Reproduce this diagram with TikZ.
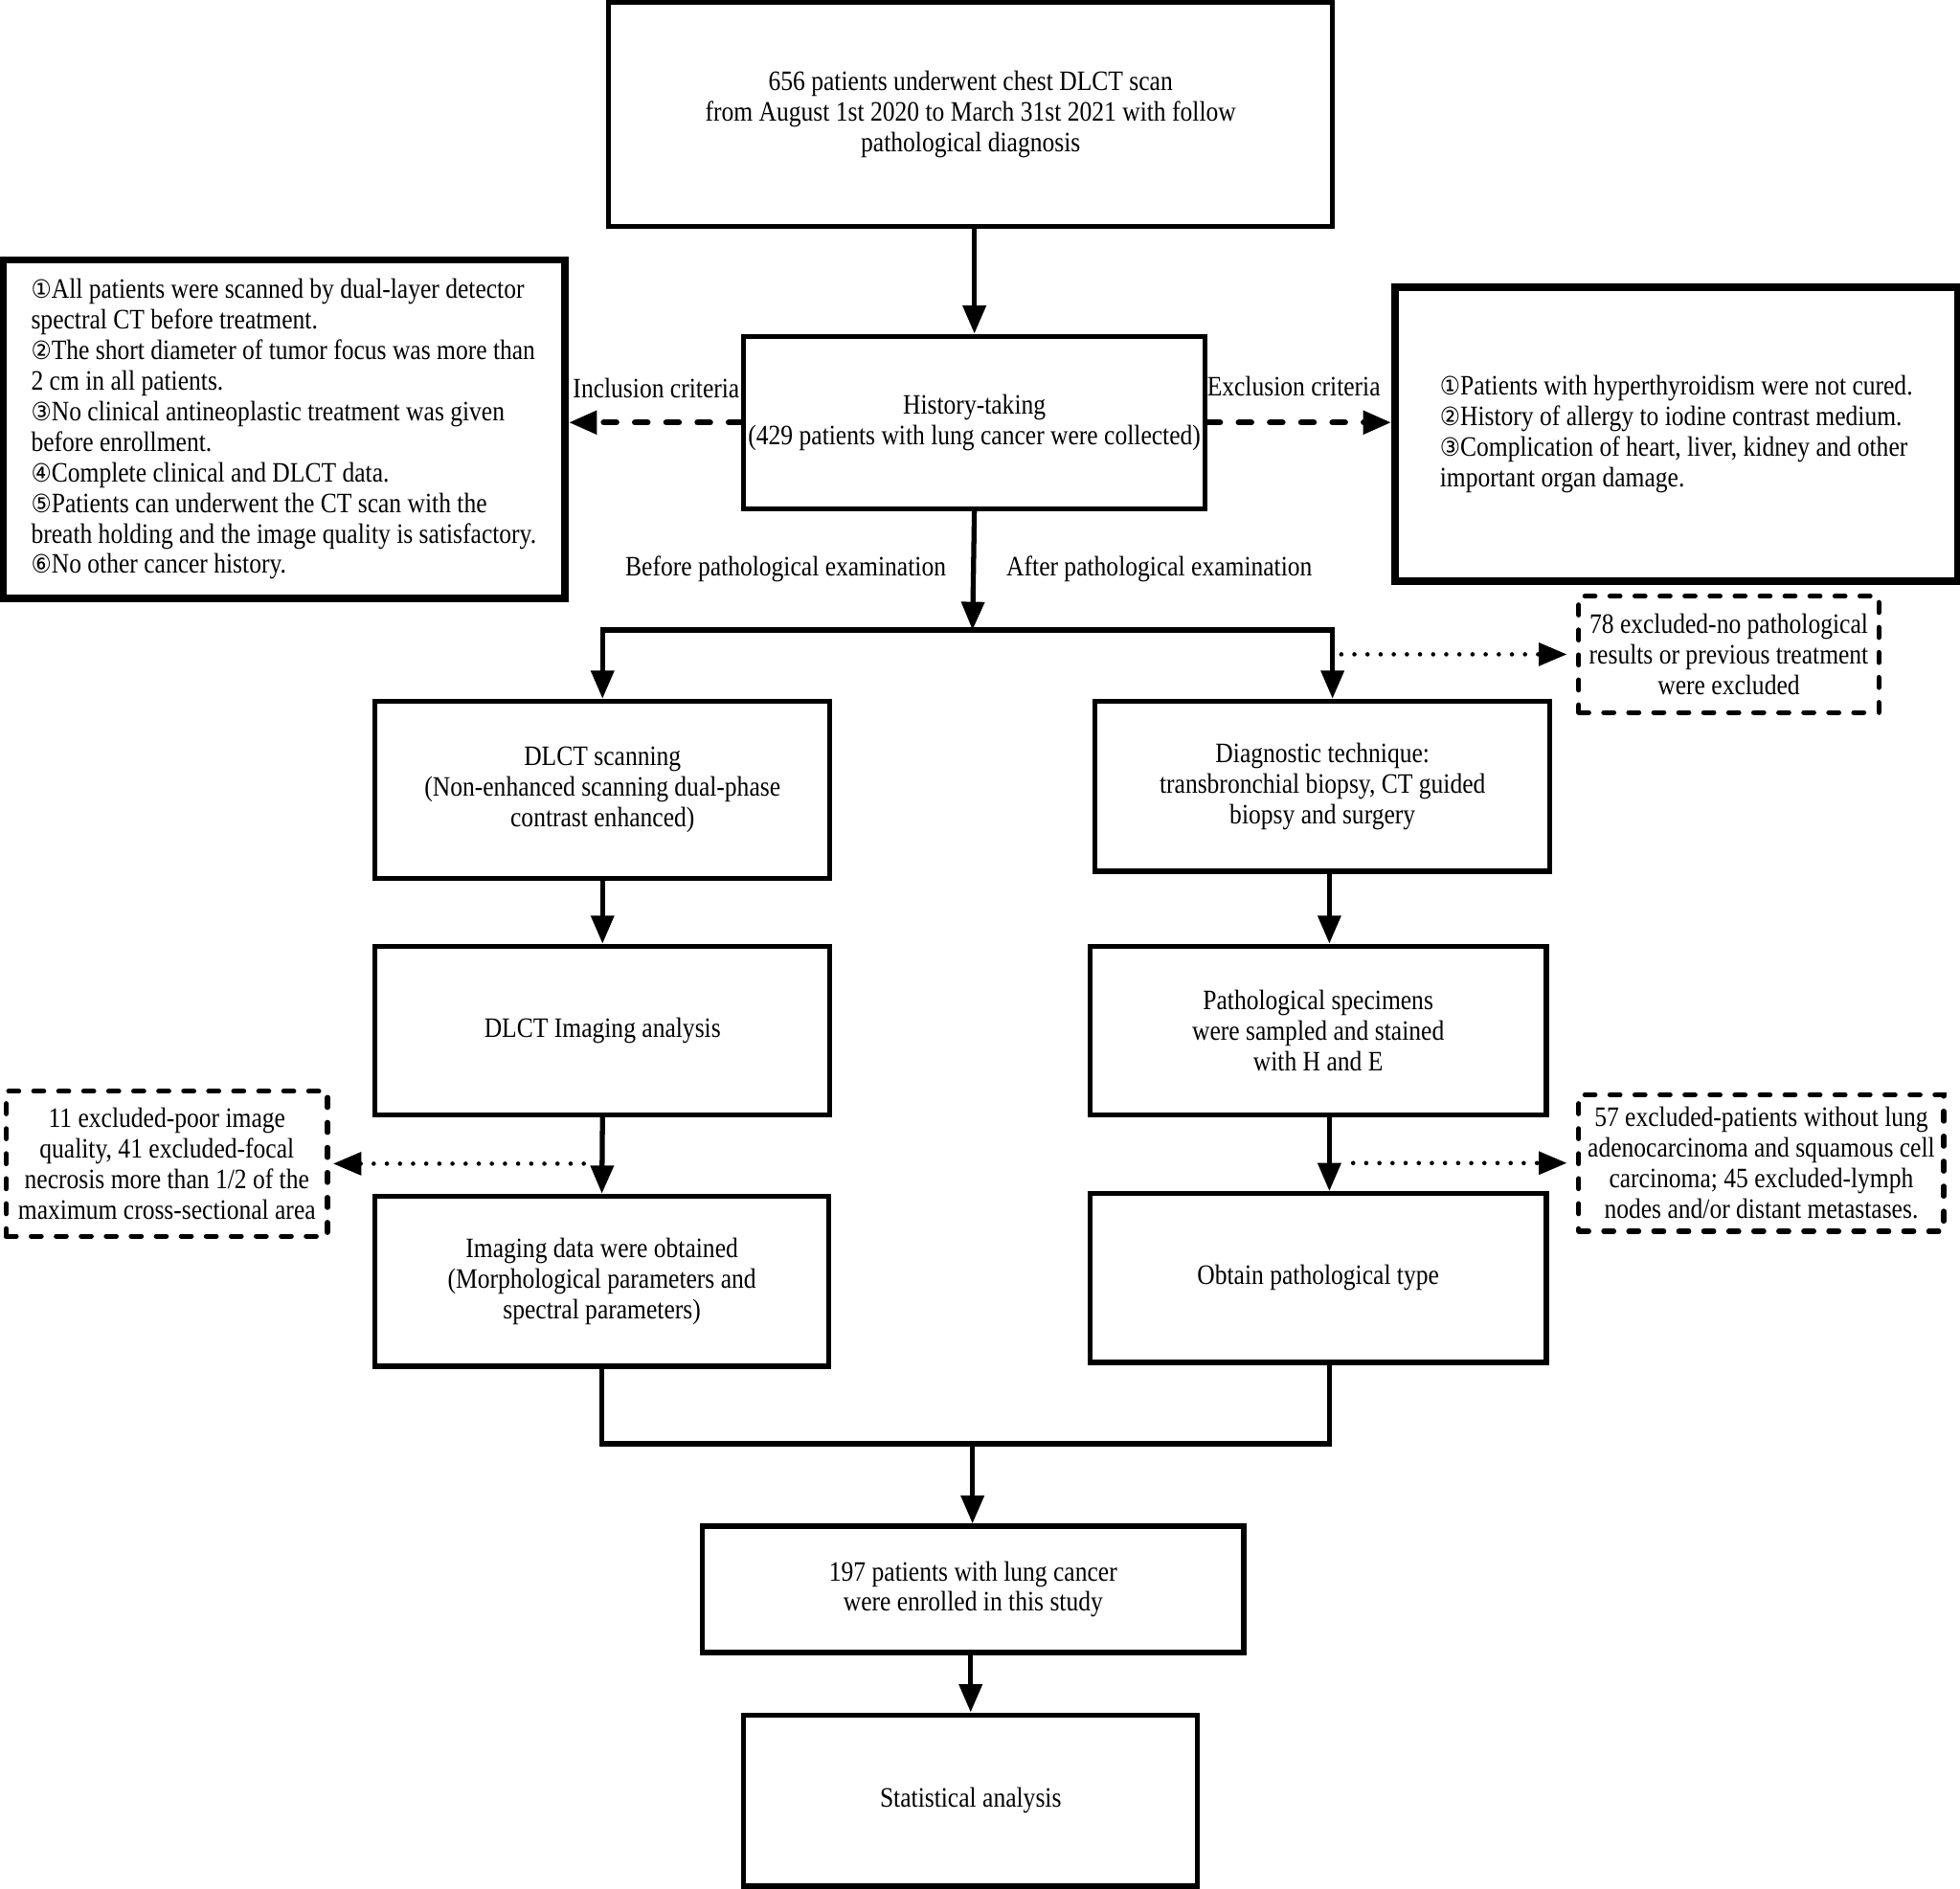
\documentclass[tikz,border=0pt]{standalone}
\usepackage{fontspec}
\setmainfont{Liberation Serif}[FakeStretch=0.87]
\newfontfamily\circfont{DejaVu Sans}[FakeStretch=0.9]
\usetikzlibrary{arrows.meta,positioning}
\newcommand{\cnum}[1]{{\circfont\fontsize{11.5}{13.9}\selectfont #1}}
\tikzstyle{every node}=[font=\fontsize{12.8}{13.9}\selectfont]
\tikzstyle{stepbox} = [draw, line width=2.3pt, align=center, inner sep=2pt]
\tikzstyle{critbox} = [draw, line width=3.4pt, align=left, inner sep=2pt]
\tikzstyle{dropbox} = [draw, line width=2.3pt, align=center, inner sep=1pt,
line cap=round, dash pattern=on 0.16cm off 0.24cm]
\tikzstyle{arrow} = [-{Triangle[length=0.45cm,width=0.36cm]}, line width=2.3pt]
\tikzstyle{dasharrow} = [arrow, line width=2.8pt, line cap=round, dash pattern=on 0.2cm off 0.3cm]
\tikzstyle{dotarrow} = [-{Triangle[length=0.45cm,width=0.36cm]}, line width=2pt,
line cap=round, dash pattern=on 0pt off 0.21cm]

\begin{document}
\begin{tikzpicture}
\useasboundingbox (0,0) rectangle (31.36,-30.22);
% main column
\node[stepbox, minimum width=11.58cm, minimum height=3.58cm] (scanned) at (15.53,-1.83)
  {656 patients underwent chest DLCT scan\\from August 1st 2020 to March 31st 2021 with follow\\pathological diagnosis};
\node[stepbox, minimum width=7.30cm, minimum height=2.76cm] (history) at (15.59,-6.76)
  {History-taking\\(429 patients with lung cancer were collected)};
\node[critbox, minimum width=9.00cm, minimum height=5.42cm] (inclusion) at (4.54,-6.87)
  {\cnum{①}All patients were scanned by dual-layer detector\\spectral CT before treatment.\\
   \cnum{②}The short diameter of tumor focus was more than\\2 cm in all patients.\\
   \cnum{③}No clinical antineoplastic treatment was given\\before enrollment.\\
   \cnum{④}Complete clinical and DLCT data.\\
   \cnum{⑤}Patients can underwent the CT scan with the\\breath holding and the image quality is satisfactory.\\
   \cnum{⑥}No other cancer history.};
\node[critbox, minimum width=9.00cm, minimum height=4.70cm] (exclusion) at (26.82,-6.95)
  {\cnum{①}Patients with hyperthyroidism were not cured.\\
   \cnum{②}History of allergy to iodine contrast medium.\\
   \cnum{③}Complication of heart, liver, kidney and other\\important organ damage.};
% two branches
\node[stepbox, minimum width=7.28cm, minimum height=2.84cm] (dlctscan) at (9.64,-12.64)
  {DLCT scanning\\(Non-enhanced scanning dual-phase\\contrast enhanced)};
\node[stepbox, minimum width=7.28cm, minimum height=2.72cm] (technique) at (21.16,-12.58)
  {Diagnostic technique:\\transbronchial biopsy, CT guided\\biopsy and surgery};
\node[stepbox, minimum width=7.28cm, minimum height=2.70cm] (imaging) at (9.64,-16.49)
  {DLCT Imaging analysis};
\node[stepbox, minimum width=7.30cm, minimum height=2.70cm] (specimen) at (21.09,-16.49)
  {Pathological specimens\\were sampled and stained\\with H and E};
\node[stepbox, minimum width=7.26cm, minimum height=2.72cm] (imgdata) at (9.63,-20.50)
  {Imaging data were obtained\\(Morphological parameters and\\spectral parameters)};
\node[stepbox, minimum width=7.30cm, minimum height=2.70cm] (pathtype) at (21.09,-20.45)
  {Obtain pathological type};
\node[stepbox, minimum width=8.66cm, minimum height=2.02cm] (enrolled) at (15.57,-25.43)
  {197 patients with lung cancer\\were enrolled in this study};
\node[stepbox, minimum width=7.26cm, minimum height=2.74cm] (stats) at (15.53,-28.81)
  {Statistical analysis};
% excluded cases
\node[dropbox, minimum width=4.80cm, minimum height=1.86cm] (drop78) at (27.66,-10.47)
  {78 excluded-no pathological\\results or previous treatment\\were excluded};
\node[dropbox, minimum width=5.14cm, minimum height=2.32cm] (drop11) at (2.67,-18.62)
  {11 excluded-poor image\\quality, 41 excluded-focal\\necrosis more than 1/2 of the\\maximum cross-sectional area};
\node[dropbox, minimum width=5.84cm, minimum height=2.18cm] (drop57) at (28.18,-18.61)
  {57 excluded-patients without lung\\adenocarcinoma and squamous cell\\carcinoma; 45 excluded-lymph\\nodes and/or distant metastases.};
% labels
\node[anchor=south] at (10.50,-6.50) {Inclusion criteria};
\node[anchor=south] at (20.70,-6.46) {Exclusion criteria};
\node[anchor=east] at (15.26,-9.10) {Before pathological examination};
\node[anchor=west] at (15.98,-9.10) {After pathological examination};
% connectors
\coordinate (split) at (15.56,-10.08);
\coordinate (merge) at (15.56,-23.10);
\draw[arrow] (scanned.south -| history.north) -- (history.north);
\draw[dasharrow] (history.west) -- (history.west -| inclusion.east);
\draw[dasharrow] (history.east) -- (history.east -| exclusion.west);
\draw[arrow] (history.south) -- (split);
\draw[arrow, line join=miter] (split) -| (dlctscan.north);
\draw[arrow, line join=miter] (split) -| ([xshift=0.16cm]technique.north);
\draw[dotarrow, shorten >=0.15cm] ([xshift=0.30cm]technique.north |- drop78.west) -- (drop78.west);
\draw[arrow] (dlctscan.south) -- (imaging.north);
\draw[arrow] ([xshift=0.18cm]specimen.north |- technique.south) -- ([xshift=0.18cm]specimen.north);
\draw[arrow] (imaging.south) -- (imgdata.north);
\draw[arrow] ([xshift=0.18cm]specimen.south) -- ([xshift=0.18cm]pathtype.north);
\draw[dotarrow, shorten >=0.05cm] ([xshift=-0.30cm]imaging.south |- drop11.east) -- (drop11.east);
\draw[dotarrow, shorten >=0.15cm] ([xshift=0.56cm]specimen.south |- drop57.west) -- (drop57.west);
\draw[line width=2.3pt, line join=miter] (imgdata.south) |- (merge) -| ([xshift=0.18cm]pathtype.south);
\draw[arrow] (merge) -- (merge |- enrolled.north);
\draw[arrow] (enrolled.south -| stats.north) -- (stats.north);
\end{tikzpicture}
\end{document}
